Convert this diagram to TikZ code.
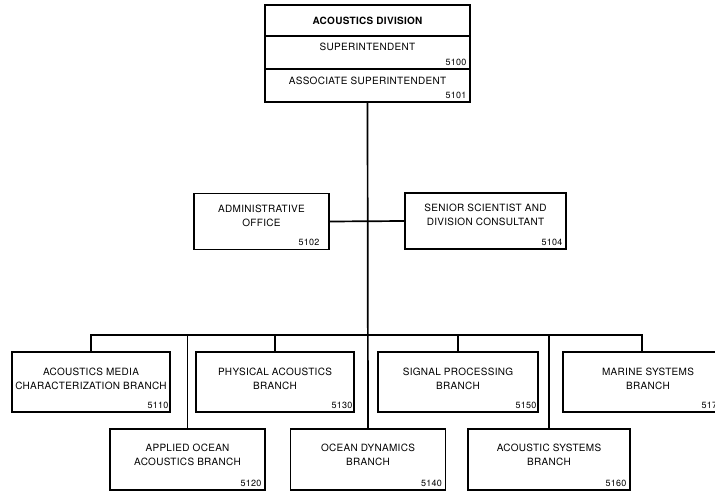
\documentclass[tikz,border=0pt]{standalone}
\usepackage{fontspec}
\setmainfont{TeX Gyre Heros}[LetterSpace=3]
\usetikzlibrary{positioning,calc}
\tikzset{
  unitbox/.style={draw, line width=1.1pt, align=center, inner sep=0.5pt, font=\fontsize{10}{14}\selectfont, text depth=8pt},
  unitnum/.style={anchor=south east, inner sep=0pt, font=\fontsize{9}{10}\selectfont, xshift=-4pt, yshift=4pt},
  link/.style={line width=1.7pt}
}

\begin{document}
\begin{tikzpicture}[x=1pt, y=-1pt]
\clip (0,0) rectangle (715,492);
% division head
\node[unitbox, minimum width=205pt, minimum height=31pt, text depth=0pt, font=\fontsize{10}{14}\selectfont\bfseries] (hdr) at (367.5,20.5) {ACOUSTICS DIVISION};
\node[unitbox, minimum width=205pt, minimum height=33pt, text depth=11pt] (sup) at (367.5,52.5) {SUPERINTENDENT};
\node[unitnum] (n5100) at (sup.south east) {5100};
\node[unitbox, minimum width=205pt, minimum height=33pt, text depth=9pt] (asup) at (367.5,85.5) {ASSOCIATE SUPERINTENDENT};
\node[unitnum] (n5101) at (asup.south east) {5101};

% staff
\node[unitbox, minimum width=135pt, minimum height=56pt, text depth=12pt] (admin) at (261.5,221.5) {ADMINISTRATIVE\\OFFICE};
\node[unitnum, xshift=-6pt] (n5102) at (admin.south east) {5102};
\node[unitbox, minimum width=161pt, minimum height=56pt, text depth=12pt] (senior) at (485.5,221) {SENIOR SCIENTIST AND\\DIVISION CONSULTANT};
\node[unitnum] (n5104) at (senior.south east) {5104};

% branches, upper row
\node[unitbox, minimum width=158pt, minimum height=60pt, text depth=6pt] (b5110) at (91,382) {ACOUSTICS MEDIA\\CHARACTERIZATION BRANCH};
\node[unitnum, xshift=2pt] (n5110) at (b5110.south east) {5110};
\node[unitbox, minimum width=158pt, minimum height=60pt, text depth=6pt] (b5130) at (275,382) {PHYSICAL ACOUSTICS\\BRANCH};
\node[unitnum, xshift=2pt] (n5130) at (b5130.south east) {5130};
\node[unitbox, minimum width=160pt, minimum height=60pt, text depth=6pt] (b5150) at (458,382) {SIGNAL PROCESSING\\BRANCH};
\node[unitnum, xshift=2pt] (n5150) at (b5150.south east) {5150};
\node[unitbox, minimum width=170pt, minimum height=60pt, text depth=6pt] (b5170) at (648,382) {MARINE SYSTEMS\\BRANCH};
\node[unitnum, xshift=-7pt] (n5170) at (b5170.south east) {5170};

% branches, lower row
\node[unitbox, minimum width=155pt, minimum height=61pt, text depth=9pt] (b5120) at (187.5,459.5) {APPLIED OCEAN\\ACOUSTICS BRANCH};
\node[unitnum] (n5120) at (b5120.south east) {5120};
\node[unitbox, minimum width=155pt, minimum height=61pt, text depth=9pt, line width=1.4pt] (b5140) at (368,459.5) {OCEAN DYNAMICS\\BRANCH};
\node[unitnum] (n5140) at (b5140.south east) {5140};
\node[unitbox, minimum width=162pt, minimum height=61pt, text depth=9pt] (b5160) at (549,459.5) {ACOUSTIC SYSTEMS\\BRANCH};
\node[unitnum] (n5160) at (b5160.south east) {5160};

\coordinate (busL) at (91,335);
\coordinate (busR) at (642,335);

\draw[link] (asup.south) -- (b5140.north);
\draw[link] (admin.east) -- (senior.west);
\draw[link] (b5110.north) |- (busR) -- (busR |- b5170.north);
\draw[link] (b5120.north) -- (b5120.north |- busL);
\draw[link] (b5130.north) -- (b5130.north |- busL);
\draw[link] (b5150.north) -- (b5150.north |- busL);
\draw[link] (b5160.north) -- (b5160.north |- busL);
\end{tikzpicture}
\end{document}
